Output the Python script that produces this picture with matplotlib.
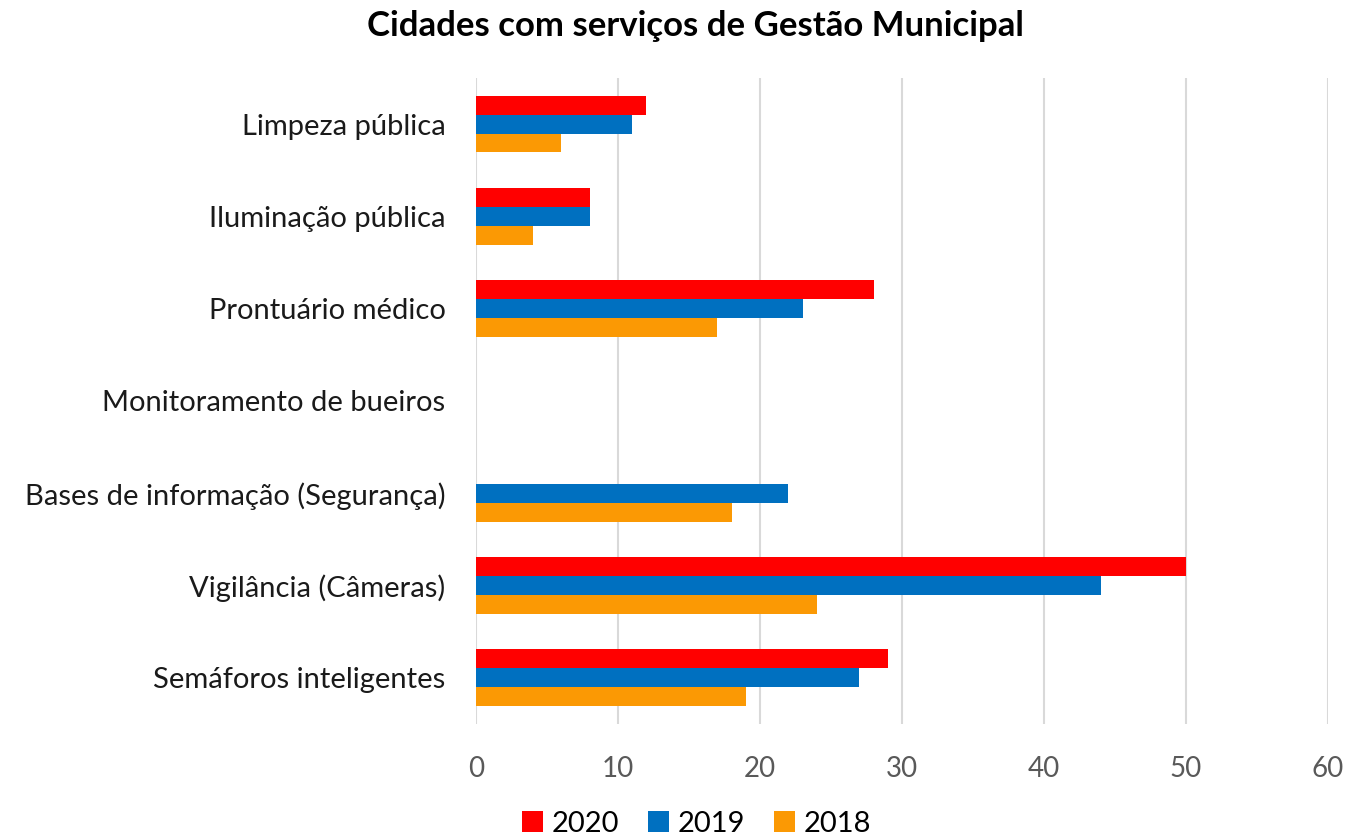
import numpy as np
import matplotlib.pyplot as plt

plt.rcParams['font.family'] = ['Lato', 'DejaVu Sans']

categories = ['Semáforos inteligentes', 'Vigilância (Câmeras)',
              'Bases de informação (Segurança)', 'Monitoramento de bueiros',
              'Prontuário médico', 'Iluminação pública', 'Limpeza pública']
v2020 = [29, 50, 0, 0, 28, 8, 12]
v2019 = [27, 44, 22, 0, 23, 8, 11]
v2018 = [19, 24, 18, 0, 17, 4, 6]
years = ['2020', '2019', '2018']
colors = ['#FF0000', '#0070C0', '#FB9904']

fig = plt.figure(figsize=(13.5, 8.38), dpi=100)
ax = fig.add_axes([0.3526, 0.136, 0.6311, 0.771])

y = np.arange(len(categories))
h = 0.205
for i, (vals, lab, c) in enumerate(zip([v2020, v2019, v2018], years, colors)):
    ax.barh(y + (1 - i) * h, vals, height=h, color=c, label=lab, zorder=3)

ax.set_xlim(0, 60)
ax.set_ylim(-0.5, len(categories) - 0.5)
ax.set_xticks(range(0, 61, 10))
ax.set_yticks(y)
ax.set_yticklabels(categories, fontsize=21, color='#1a1a1a')
ax.tick_params(axis='x', labelsize=20, labelcolor='#595959', length=0, pad=23)
ax.tick_params(axis='y', length=0, pad=22)
ax.grid(axis='x', color='#D9D9D9', linewidth=1.5, zorder=0)
for s in ax.spines.values():
    s.set_visible(False)

fig.suptitle('Cidades com serviços de Gestão Municipal', fontsize=25,
             fontweight='bold', x=0.515, y=0.988)
fig.legend(loc='lower center', bbox_to_anchor=(0.516, -0.03), ncol=3, frameon=False,
           fontsize=21, handlelength=0.7, handleheight=0.7, handletextpad=0.3,
           columnspacing=1.0)

fig.savefig('out.png')
